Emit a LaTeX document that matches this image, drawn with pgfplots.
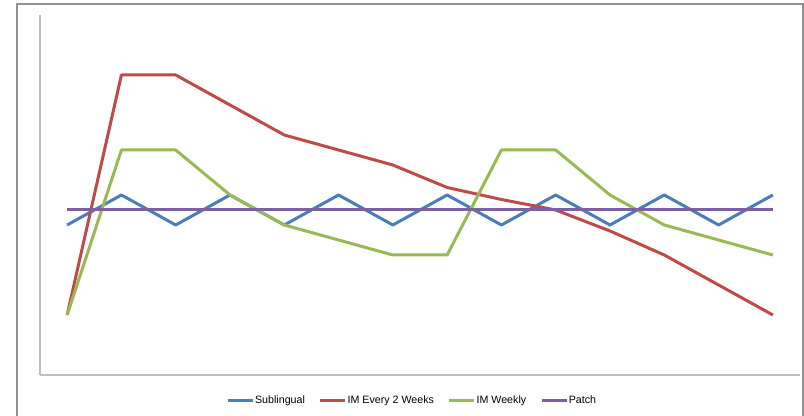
\documentclass[border=0pt]{standalone}
\usepackage{pgfplots}
\pgfplotsset{compat=1.18}
\usepackage{fontspec}
\setmainfont{Liberation Sans}
\definecolor{cBlue}{HTML}{4A7EBB}
\definecolor{cRed}{HTML}{BE4B48}
\definecolor{cGreen}{HTML}{98B954}
\definecolor{cPurple}{HTML}{7D60A0}
\begin{document}
\begin{tikzpicture}
\useasboundingbox (0pt,0pt) rectangle (603pt,312pt);
\draw[color=gray!85, line width=0.8pt] (12.75pt,-5pt) -- (12.75pt,309pt) -- (602.25pt,309pt) -- (602.25pt,-5pt);
\begin{axis}[
  at={(30pt,30.75pt)}, anchor=south west,
  scale only axis, width=570pt, height=270pt,
  xmin=-0.5, xmax=13.5, ymin=0, ymax=12,
  axis x line=bottom, axis y line=left,
  axis line style={-, draw=gray!50, line width=0.9pt},
  xtick=\empty, ytick=\empty,
  legend columns=4,
  legend style={at={(0.489,-0.072)}, anchor=center, draw=none, fill=none,
    font=\fontsize{8}{9}\selectfont, nodes={inner xsep=0.5pt},
    /tikz/every even column/.append style={column sep=10pt}},
  legend image code/.code={\draw[#1, line width=2.25pt] (0pt,0pt) -- (18.75pt,0pt);},
  every axis plot/.append style={line width=2.25pt, line join=round},
]
\addplot[cBlue, mark=none] coordinates {(0,5)(1,6)(2,5)(3,6)(4,5)(5,6)(6,5)(7,6)(8,5)(9,6)(10,5)(11,6)(12,5)(13,6)};
\addlegendentry{Sublingual}
\addplot[cRed, mark=none] coordinates {(0,2)(1,10)(2,10)(3,9)(4,8)(5,7.5)(6,7)(7,6.25)(8,5.85)(9,5.5)(10,4.8)(11,4)(12,3)(13,2)};
\addlegendentry{IM Every 2 Weeks}
\addplot[cGreen, mark=none] coordinates {(0,2)(1,7.5)(2,7.5)(3,6)(4,5)(5,4.5)(6,4)(7,4)(8,7.5)(9,7.5)(10,6)(11,5)(12,4.5)(13,4)};
\addlegendentry{IM Weekly}
\addplot[cPurple, mark=none] coordinates {(0,5.5)(1,5.5)(2,5.5)(3,5.5)(4,5.5)(5,5.5)(6,5.5)(7,5.5)(8,5.5)(9,5.5)(10,5.5)(11,5.5)(12,5.5)(13,5.5)};
\addlegendentry{Patch}
\end{axis}
\end{tikzpicture}
\end{document}
